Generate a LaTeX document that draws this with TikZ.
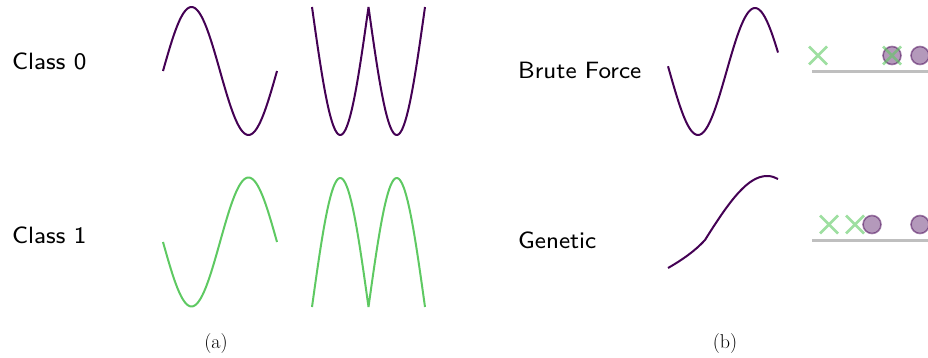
\documentclass[tikz,border=0pt]{standalone}
\usepackage{tikz}
\usetikzlibrary{positioning}
\definecolor{vpurple}{RGB}{68,1,84}
\definecolor{vgreen}{RGB}{94,201,98}
\newcommand{\sflabel}[1]{\scalebox{2.95}{\fontsize{8}{10}\selectfont\sffamily #1}}

\begin{document}
\begin{tikzpicture}[
  x=1pt, y=-1pt,
  lbl/.style={anchor=base west, inner sep=0pt},
  subcap/.style={anchor=base, inner sep=0pt, font=\fontsize{20}{24}\selectfont},
  curvea/.style={vpurple, line width=2pt, line join=round},
  curveb/.style={vgreen, line width=2pt, line join=round},
  axisline/.style={black!25, line width=3pt},
  xmark/.style={vgreen, opacity=0.6, line width=2.6pt},
  omark/.style={draw=vpurple, fill=vpurple, draw opacity=0.5, fill opacity=0.4, line width=1.6pt}
]
\useasboundingbox (0,0) rectangle (928,358);

% (a) the two classes
\node[lbl] (c0) at (12,70) {\sflabel{Class 0}};
\node[lbl] (c1) at (12,243) {\sflabel{Class 1}};
\draw[curvea] plot[domain=163:277, samples=90, smooth] (\x, {71-64*sin((\x-163)/114*360)});
\draw[curvea] plot[domain=312:368.5, samples=60, smooth] (\x, {7+128*abs(sin((\x-312)/113*360))})
  plot[domain=368.5:425, samples=60, smooth] (\x, {7+128*abs(sin((\x-312)/113*360))});
\draw[curveb] plot[domain=163:277, samples=90, smooth] (\x, {242+64.5*sin((\x-163)/114*360)});
\draw[curveb] plot[domain=312:368.5, samples=60, smooth] (\x, {307-129*abs(sin((\x-312)/113*360))})
  plot[domain=368.5:425, samples=60, smooth] (\x, {307-129*abs(sin((\x-312)/113*360))});
\node[subcap] (capa) at (216,348) {(a)};

% (b) search results
\node[lbl] (bf) at (518,79) {\sflabel{Brute Force}};
\node[lbl] (ga) at (518,248) {\sflabel{Genetic}};
\draw[curvea] plot[domain=668:778, samples=90, smooth] (\x, {71.5+63.5*sin((\x-669.5)/114*360)});
\draw[curvea] (668,268) .. controls (682,260) and (695,251) .. (705,240)
  .. controls (730,200) and (748,176) .. (767,176)
  .. controls (772,176) and (775,177.5) .. (778,179);

\coordinate (bfl) at (812,71.5);
\coordinate (bfr) at (928,71.5);
\coordinate (gal) at (812,240);
\coordinate (gar) at (928,240);
\draw[axisline] (bfl) -- (bfr);
\draw[axisline] (gal) -- (gar);

\foreach \px/\py in {892/55.5, 920/55.5, 872/224.5, 920/224.5}
  \draw[omark] (\px,\py) circle (9);
\foreach \px/\py in {818/55.5, 892/55.5, 829/224.5, 855/224.5}
  \draw[xmark] (\px-9,\py-9) -- (\px+9,\py+9) (\px-9,\py+9) -- (\px+9,\py-9);

\node[subcap] (capb) at (725,348) {(b)};
\end{tikzpicture}
\end{document}
